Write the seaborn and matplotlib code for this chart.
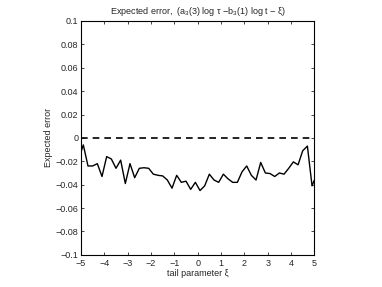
import numpy as np
import pandas as pd
import matplotlib
matplotlib.use("Agg")
import matplotlib.pyplot as plt
import seaborn as sns

# --- data ---
xi = [-5.0, -4.9, -4.7, -4.5, -4.3, -4.1, -3.9, -3.7, -3.5, -3.3, -3.1,
      -2.9, -2.7, -2.5, -2.3, -2.1, -1.9, -1.7, -1.5, -1.3, -1.1,
      -0.9, -0.7, -0.5, -0.3, -0.1, 0.1, 0.3, 0.5, 0.7, 0.9,
      1.1, 1.3, 1.5, 1.7, 1.9, 2.1, 2.3, 2.5, 2.7, 2.9,
      3.1, 3.3, 3.5, 3.7, 3.9, 4.1, 4.3, 4.5, 4.7, 4.9, 5.0]
err = [-0.012, -0.006, -0.024, -0.024, -0.022, -0.033, -0.016, -0.018, -0.026, -0.019, -0.039,
       -0.022, -0.034, -0.026, -0.0255, -0.026, -0.031, -0.032, -0.0325, -0.036, -0.043,
       -0.032, -0.038, -0.037, -0.044, -0.038, -0.045, -0.041, -0.031, -0.036, -0.038,
       -0.031, -0.035, -0.038, -0.038, -0.029, -0.024, -0.032, -0.036, -0.021, -0.030,
       -0.0305, -0.033, -0.030, -0.031, -0.026, -0.0205, -0.023, -0.011, -0.007, -0.041, -0.036]
xticks = [-5, -4, -3, -2, -1, 0, 1, 2, 3, 4, 5]
yticks = [-0.1, -0.08, -0.06, -0.04, -0.02, 0, 0.02, 0.04, 0.06, 0.08, 0.1]
yticklabels = ["\u22120.1", "\u22120.08", "\u22120.06", "\u22120.04", "\u22120.02", "0",
               "0.02", "0.04", "0.06", "0.08", "0.1"]
xticklabels = ["\u22125", "\u22124", "\u22123", "\u22122", "\u22121", "0", "1", "2", "3", "4", "5"]

df = pd.DataFrame({"xi": xi, "err": err})

# --- style ---
sns.set_style("ticks")
plt.rcParams["font.family"] = ["Liberation Sans", "DejaVu Sans"]
plt.rcParams["mathtext.fontset"] = "custom"
plt.rcParams["mathtext.rm"] = "Liberation Sans"
plt.rcParams["mathtext.it"] = "Liberation Sans:italic"
plt.rcParams["xtick.direction"] = "in"
plt.rcParams["ytick.direction"] = "in"

fig = plt.figure(figsize=(3.82, 2.87), dpi=100)
ax = fig.add_axes([0.212, 0.112, 0.611, 0.815])

ax.axhline(0, color="black", lw=1.2, ls=(0, (4, 3)))
sns.lineplot(data=df, x="xi", y="err", ax=ax, color="black", lw=1.0)

ax.set_xlim(-5, 5)
ax.set_ylim(-0.1, 0.1)
ax.set_xticks(xticks)
ax.set_xticklabels(xticklabels)
ax.set_yticks(yticks)
ax.set_yticklabels(yticklabels)
ax.tick_params(labelsize=6.5, length=2.5, width=0.6, top=True, right=True)
ax.tick_params(axis="x", pad=3)
ax.tick_params(axis="y", pad=2)
for s in ax.spines.values():
    s.set_visible(True)
    s.set_linewidth(0.8)
    s.set_color("black")

ax.set_xlabel("tail parameter \u03be", fontsize=6.5, labelpad=1)
ax.set_ylabel("Expected error", fontsize=6.5, labelpad=2)
ax.set_title("Expected error,  (a$_3$(3) log \u03c4 \u2212b$_3$(1) log t \u2212 \u03be)",
             fontsize=6.5, pad=5)

plt.savefig("out.png", dpi=100)
